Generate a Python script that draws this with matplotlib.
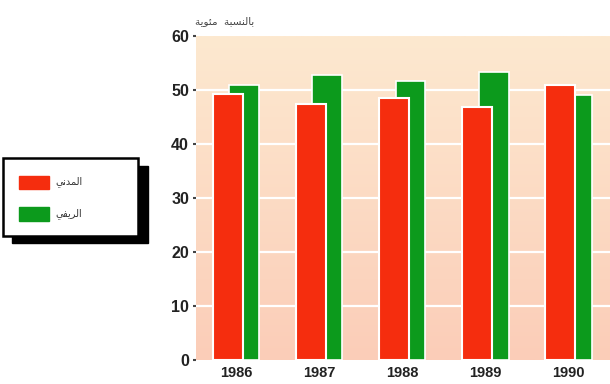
import numpy as np
import matplotlib.pyplot as plt
from matplotlib.patches import Rectangle
from matplotlib.colors import LinearSegmentedColormap

years = ['1986', '1987', '1988', '1989', '1990']
urban = [49.2, 47.5, 48.6, 46.8, 51.0]   # red
rural = [51.0, 52.7, 51.6, 53.4, 49.0]   # green

# arabic text written in visual order with presentation forms
lbl_urban = '\uFEF2\uFEE7\uFEAA\uFEE4\uFEDF\uFE8D'
lbl_rural = '\uFEF2\uFED4\uFEF3\uFEAE\uFEDF\uFE8D'
lbl_unit = '\uFE94\uFEF3\uFEEE\uFE8C\uFEE3  \uFE94\uFE92\uFEB4\uFEE8\uFEDF\uFE8E\uFE91'

W, H = 610, 384
fig = plt.figure(figsize=(W/100, H/100), dpi=100)
fig.patch.set_facecolor('white')

def px(x0, y0, x1, y1):
    # pixel box (top-left origin) -> figure fraction rect
    return [x0/W, 1-y1/H, (x1-x0)/W, (y1-y0)/H]

ax = fig.add_axes(px(196, 36, 610, 360))
x = np.arange(len(years))

# background gradient
cmap = LinearSegmentedColormap.from_list('bg', ['#fbcdb8', '#fde9d0'])
grad = np.linspace(0, 1, 256).reshape(-1, 1)
ax.imshow(grad, aspect='auto', cmap=cmap, origin='lower',
          extent=[-0.48, 4.5, 0, 60], zorder=0)

for v in range(10, 60, 10):
    ax.axhline(v, color='white', lw=1.6, zorder=1)

ax.bar(x + 0.10, rural, width=0.36, align='center', color='#0c9a1c',
       edgecolor='white', linewidth=1.2, zorder=2)
ax.bar(x - 0.10, urban, width=0.36, align='center', color='#f52d0e',
       edgecolor='white', linewidth=1.5, zorder=3)

ax.set_xlim(-0.48, 4.5)
ax.set_ylim(0, 60)
ax.set_xticks(x)
ax.set_xticklabels(years, fontsize=10.5, fontweight='bold', color='#222222',
                   family='Liberation Sans')
ax.set_yticks(range(0, 61, 10))
ax.set_yticklabels([str(v) for v in range(0, 61, 10)], fontsize=11.5,
                   fontweight='bold', color='#222222', family='Liberation Sans')
ax.tick_params(axis='x', length=0, pad=4)
ax.tick_params(axis='y', length=2, width=1.5, color='#444444', pad=3)
for s in ax.spines.values():
    s.set_visible(False)

fig.text(195/W, 1-21/H, lbl_unit, fontsize=7.5, family='DejaVu Sans',
         color='#444444', ha='left', va='center')

# legend box with shadow
fig.add_artist(Rectangle(px(12, 166, 148, 243)[:2], 136/W, 77/H,
                         transform=fig.transFigure, color='black', zorder=5))
fig.add_artist(Rectangle(px(3, 158, 138, 236)[:2], 135/W, 78/H,
                         transform=fig.transFigure, facecolor='white',
                         edgecolor='black', lw=1.8, zorder=6))
fig.add_artist(Rectangle(px(19, 176, 49, 189)[:2], 30/W, 13/H,
                         transform=fig.transFigure, color='#f52d0e', zorder=7))
fig.add_artist(Rectangle(px(19, 207, 49, 221)[:2], 30/W, 14/H,
                         transform=fig.transFigure, color='#0c9a1c', zorder=7))
fig.text(82/W, 1-182/H, lbl_urban, fontsize=7, family='DejaVu Sans',
         ha='right', va='center', color='#333333', zorder=8)
fig.text(82/W, 1-214/H, lbl_rural, fontsize=7, family='DejaVu Sans',
         ha='right', va='center', color='#333333', zorder=8)

fig.savefig('out.png', dpi=100)
